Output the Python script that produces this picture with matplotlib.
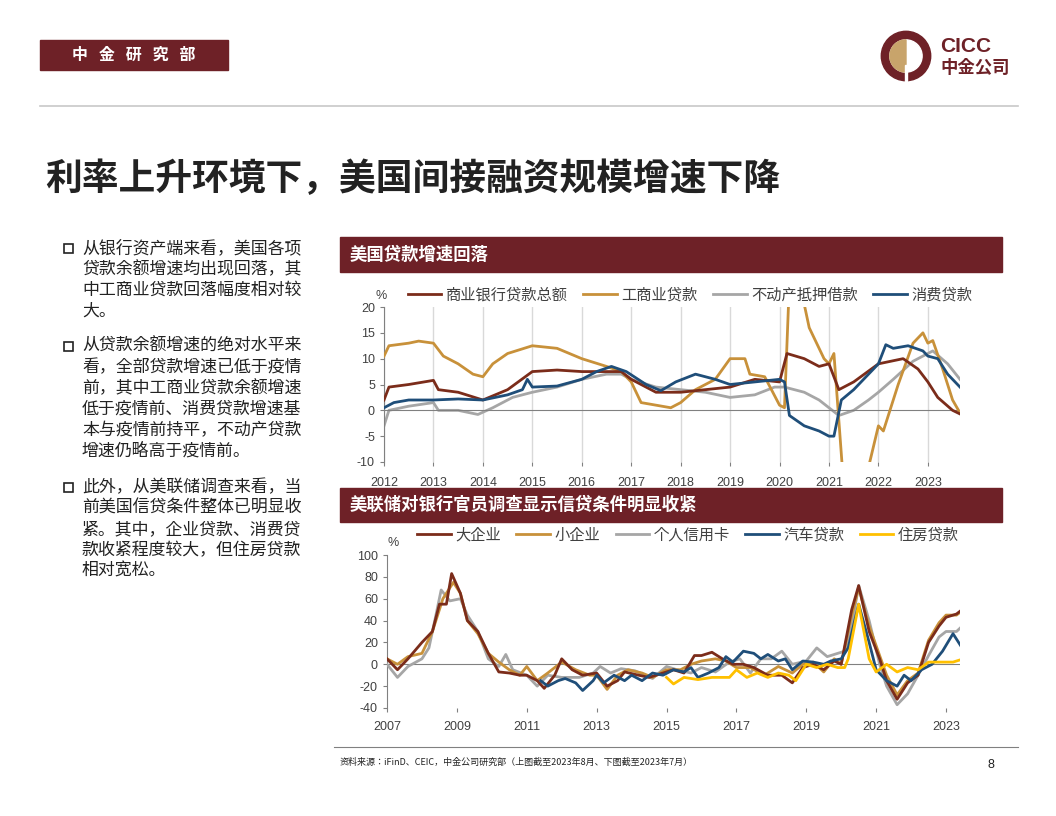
import matplotlib
matplotlib.use("Agg")
import matplotlib.pyplot as plt
from matplotlib.patches import Rectangle, Circle, Wedge
from matplotlib import font_manager

names = {f.name for f in font_manager.fontManager.ttflist}
cjk = [n for n in ["Noto Sans CJK SC", "Noto Sans CJK JP", "Noto Sans CJK TC", "Noto Sans CJK KR"] if n in names]
plt.rcParams["font.family"] = cjk + ["DejaVu Sans"]
plt.rcParams["axes.unicode_minus"] = False

W, H = 1056, 816
RED = "#6E2127"
C_DR, C_OR, C_GY, C_BL, C_YL = "#7B2C1A", "#C8913A", "#A6A6A6", "#1F4E79", "#FFC000"

# ---- data: top chart (year, %)
top_x_total = [2012.0,2012.1,2012.5,2013.0,2013.1,2013.5,2014.0,2014.5,2015.0,2015.5,2016.0,2016.5,2016.8,2017.0,2017.5,2018.0,2018.5,2019.0,2019.5,2020.0,2020.15,2020.5,2020.8,2021.0,2021.2,2021.5,2022.0,2022.5,2022.8,2023.0,2023.2,2023.5,2023.65]
top_y_total = [2,4.5,5,5.8,4,3.5,2,4,7.5,7.8,7.5,7.5,7.5,6,3.5,3.5,4,4.5,6,5.5,11,10,8.5,9,4,5.5,9,10,8,5.5,2.5,0,-0.7]
top_x_ci = [2012.0,2012.1,2012.5,2012.7,2013.0,2013.2,2013.5,2013.8,2014.0,2014.2,2014.5,2015.0,2015.5,2016.0,2016.5,2016.8,2017.0,2017.2,2017.5,2017.8,2018.0,2018.3,2018.7,2019.0,2019.3,2019.4,2019.7,2020.0,2020.1,2020.2,2020.4,2020.6,2020.9,2021.0,2021.1,2021.3,2021.7,2022.0,2022.1,2022.4,2022.7,2022.9,2023.0,2023.1,2023.3,2023.5,2023.65]
top_y_ci = [10.5,12.5,13,13.4,13,10.5,9,7,6.5,9,11,12.5,12,10,8.5,7.5,5.5,1.5,1,0.5,1.5,4,6,10,10,7,6.5,1,0.5,25,25,16,10,9,11,-15,-15,-3,-4,5,13,15,13,13.5,8,2,-0.5]
top_x_re = [2012.0,2012.1,2012.5,2013.0,2013.1,2013.5,2013.9,2014.2,2014.6,2015.0,2015.5,2016.0,2016.5,2016.8,2017.0,2017.5,2018.0,2018.5,2019.0,2019.5,2019.9,2020.1,2020.5,2020.8,2021.0,2021.2,2021.5,2021.8,2022.0,2022.3,2022.7,2023.0,2023.1,2023.4,2023.65]
top_y_re = [-3,0,0.8,1.5,0,0,-0.8,0.5,2.5,3.5,4.5,6,7,7,6,4.5,4,3.5,2.5,3,4.5,4.5,3.5,2,0.5,-1,0,2,3.5,6,9.5,11,11.5,9,6]
top_x_con = [2012.0,2012.2,2012.5,2013.0,2013.5,2014.0,2014.5,2014.8,2014.9,2015.0,2015.5,2016.0,2016.3,2016.6,2016.9,2017.3,2017.6,2017.9,2018.3,2018.7,2019.0,2019.5,2020.0,2020.1,2020.2,2020.5,2020.8,2021.0,2021.1,2021.25,2021.5,2022.0,2022.15,2022.3,2022.6,2022.9,2023.0,2023.2,2023.4,2023.5,2023.65]
top_y_con = [0.5,1.5,2,2,2.2,2,3,4,6,4.5,4.7,6,7.5,8.5,7.5,5,3.8,5.5,7,6,5,5.5,6,5.5,-1,-3,-4,-5,-5,2,4,9,12.7,12,12.5,11.5,10.5,10,7,6,4.5]
top_names = ["商业银行贷款总额","工商业贷款","不动产抵押借款","消费贷款"]
top_ticks = list(range(2012, 2024))

# ---- data: bottom chart (year, %)
b_x_large = [2007.0,2007.3,2007.6,2008.0,2008.3,2008.5,2008.7,2008.85,2009.1,2009.3,2009.6,2009.9,2010.2,2010.5,2010.8,2011.0,2011.3,2011.5,2011.8,2012.0,2012.3,2012.6,2013.0,2013.3,2013.6,2013.8,2014.2,2014.5,2014.9,2015.2,2015.5,2015.8,2016.0,2016.3,2016.6,2016.9,2017.2,2017.5,2017.9,2018.3,2018.6,2018.9,2019.2,2019.5,2019.8,2020.0,2020.3,2020.5,2020.8,2021.1,2021.3,2021.6,2021.9,2022.2,2022.5,2022.8,2023.0,2023.3,2023.5]
b_y_large = [5,-5,5,20,30,55,55,83,65,40,30,10,-7,-8,-10,-10,-15,-22,-10,5,-5,-10,-8,-20,-15,-7,-10,-12,-8,-5,-8,8,8,11,5,0,0,-3,-10,-10,-17,-3,0,-5,3,0,50,72,30,5,-15,-32,-17,-10,20,35,43,46,51]
b_x_small = [2007.0,2007.3,2007.6,2008.0,2008.3,2008.6,2008.9,2009.1,2009.3,2009.6,2009.9,2010.2,2010.5,2010.8,2011.0,2011.3,2011.6,2012.0,2012.4,2012.8,2013.0,2013.3,2013.6,2013.9,2014.3,2014.6,2015.0,2015.4,2015.7,2016.0,2016.4,2016.7,2017.0,2017.4,2017.8,2018.2,2018.6,2018.9,2019.2,2019.5,2019.8,2020.0,2020.3,2020.5,2020.8,2021.1,2021.3,2021.6,2021.9,2022.2,2022.5,2022.8,2023.0,2023.3,2023.5]
b_y_small = [5,0,7,10,30,60,75,65,40,28,10,2,-5,-10,-2,-15,-8,2,-5,-10,-10,-23,-10,-5,-8,-12,-5,-5,0,3,5,3,-3,-3,-10,-2,-8,0,2,-7,5,0,45,70,35,8,-10,-28,-15,-8,22,38,45,45,50]
b_x_card = [2007.0,2007.3,2007.6,2008.0,2008.2,2008.4,2008.55,2008.8,2009.1,2009.3,2009.6,2009.9,2010.2,2010.4,2010.6,2011.0,2011.3,2011.6,2012.0,2012.5,2012.9,2013.1,2013.4,2013.7,2014.1,2014.6,2015.0,2015.3,2015.7,2016.0,2016.4,2016.8,2017.1,2017.4,2017.7,2018.0,2018.3,2018.6,2019.0,2019.3,2019.6,2019.9,2020.1,2020.3,2020.5,2020.8,2021.1,2021.3,2021.6,2021.9,2022.2,2022.5,2022.8,2023.0,2023.3,2023.5]
b_y_card = [0,-12,-2,5,15,45,68,58,60,45,30,5,-2,9,-5,-10,-20,-10,-12,-12,-8,-2,-8,-4,-6,-13,-2,-5,-8,-3,-7,2,5,-8,5,5,12,0,3,15,7,10,12,35,72,40,0,-20,-37,-27,-10,8,25,30,30,36]
b_x_auto = [2011.4,2011.6,2011.9,2012.1,2012.4,2012.6,2012.9,2013.0,2013.2,2013.5,2013.8,2014.0,2014.3,2014.6,2014.9,2015.2,2015.5,2015.7,2015.9,2016.2,2016.5,2016.7,2016.9,2017.2,2017.5,2017.7,2017.9,2018.2,2018.4,2018.6,2018.9,2019.2,2019.5,2019.7,2020.0,2020.2,2020.5,2020.8,2021.0,2021.3,2021.6,2021.8,2022.0,2022.3,2022.6,2022.9,2023.2,2023.5]
b_y_auto = [-15,-20,-15,-13,-17,-24,-15,-10,-17,-10,-15,-10,-15,-8,-10,-5,-7,-3,-12,-8,-3,7,2,12,10,5,9,3,5,-5,3,2,0,3,5,15,55,20,-5,-15,-20,-10,-15,-5,0,12,28,13]
b_x_house = [2015.0,2015.2,2015.5,2015.9,2016.3,2016.8,2017.0,2017.3,2017.6,2017.9,2018.2,2018.5,2018.7,2019.0,2019.3,2019.6,2019.9,2020.1,2020.2,2020.5,2020.8,2021.0,2021.3,2021.6,2021.9,2022.2,2022.5,2022.9,2023.2,2023.5]
b_y_house = [-12,-18,-12,-14,-12,-12,-5,-12,-8,-12,-8,-10,-15,0,-3,0,-3,-3,5,55,5,-7,0,-7,-3,-5,2,2,2,5]
bot_names = ["大企业","小企业","个人信用卡","汽车贷款","住房贷款"]
bot_ticks = list(range(2007, 2024, 2))

fig = plt.figure(figsize=(W/100, H/100), dpi=100)

def fx(px): return px / W
def fy(py): return 1 - py / H

def rect(x0, y0, x1, y1, color):
    fig.patches.append(Rectangle((fx(x0), fy(y1)), fx(x1 - x0), (y1 - y0) / H,
                                 transform=fig.transFigure, color=color, zorder=0))

# header
rect(40, 40, 228, 70, RED)
fig.text(fx(134), fy(55), "中   金   研   究   部", color="white", fontsize=11.5,
         fontweight="bold", ha="center", va="center")
# logo
lax = fig.add_axes([fx(880), fy(82), fx(52), 52/H])
lax.set_xlim(-1, 1); lax.set_ylim(-1, 1); lax.set_aspect("equal"); lax.axis("off")
lax.add_patch(Circle((0, 0), 0.95, color=RED))
lax.add_patch(Circle((0, 0), 0.62, color="white"))
lax.add_patch(Wedge((0, 0), 0.62, 90, 270, color="#C8A46B"))
lax.add_patch(Rectangle((-0.05, -0.95), 0.1, 0.6, color="white"))
fig.text(fx(940), fy(47), "CICC", color=RED, fontsize=15, fontweight="bold",
         family="Liberation Sans", va="center")
fig.text(fx(940), fy(68), "中金公司", color=RED, fontsize=12.5, fontweight="bold", va="center")
fig.add_artist(plt.Line2D([fx(40), fx(1018)], [fy(106)] * 2, color="#C8C8C8", lw=1.2))

# title
fig.text(fx(45), fy(180), "利率上升环境下，美国间接融资规模增速下降", fontsize=26.5,
         fontweight="bold", color="#222222", va="center")

# bullets
paras = [
    (248, ["从银行资产端来看，美国各项", "贷款余额增速均出现回落，其", "中工商业贷款回落幅度相对较", "大。"]),
    (346, ["从贷款余额增速的绝对水平来", "看，全部贷款增速已低于疫情", "前，其中工商业贷款余额增速", "低于疫情前、消费贷款增速基", "本与疫情前持平，不动产贷款", "增速仍略高于疫情前。"]),
    (487, ["此外，从美联储调查来看，当", "前美国信贷条件整体已明显收", "紧。其中，企业贷款、消费贷", "款收紧程度较大，但住房贷款", "相对宽松。"]),
]
for y0, lines in paras:
    fig.patches.append(Rectangle((fx(64), fy(y0 + 5)), fx(9), 9/H, transform=fig.transFigure,
                                 fill=False, edgecolor="#222222", lw=1.2))
    for i, ln in enumerate(lines):
        fig.text(fx(82), fy(y0 + i * 21), ln, fontsize=12.2, color="#222222", va="center")

# chart headers
rect(340, 237, 1002, 272, RED)
fig.text(fx(350), fy(255), "美国贷款增速回落", color="white", fontsize=12.5, fontweight="bold", va="center")
rect(340, 488, 1002, 522, RED)
fig.text(fx(350), fy(505), "美联储对银行官员调查显示信贷条件明显收紧", color="white", fontsize=12.5, fontweight="bold", va="center")

def style(ax):
    for s in ["top", "right"]:
        ax.spines[s].set_visible(False)
    ax.spines["left"].set_color("#808080")
    ax.spines["bottom"].set_visible(False)
    ax.tick_params(axis="both", colors="#404040", length=3, color="#808080")
    for lab in ax.get_xticklabels() + ax.get_yticklabels():
        lab.set_fontfamily("Liberation Sans"); lab.set_fontsize(9)

# top chart
ax1 = fig.add_axes([fx(384), fy(462), fx(960 - 384), (462 - 307) / H])
l1 = ax1.plot(top_x_total, top_y_total, color=C_DR, lw=2, zorder=4)
l2 = ax1.plot(top_x_ci, top_y_ci, color=C_OR, lw=2, zorder=3)
l3 = ax1.plot(top_x_re, top_y_re, color=C_GY, lw=2, zorder=2)
l4 = ax1.plot(top_x_con, top_y_con, color=C_BL, lw=2, zorder=5)
ax1.set_xlim(2012, 2023.65); ax1.set_ylim(-10, 20)
ax1.set_yticks(range(-10, 21, 5)); ax1.set_xticks(top_ticks)
ax1.set_xticklabels([str(t) for t in top_ticks])
ax1.axhline(0, color="#808080", lw=0.8)
for t in top_ticks:
    ax1.axvline(t, color="#D9D9D9", lw=1, zorder=0)
ax1.tick_params(axis="x", length=0, pad=8)
style(ax1)
fig.text(fx(376), fy(296), "%", fontsize=9, family="Liberation Sans", color="#404040", va="center")
fig.legend([l1[0], l2[0], l3[0], l4[0]], top_names, loc="center", ncol=4,
           bbox_to_anchor=(fx(690), fy(295)), frameon=False, fontsize=11,
           handlelength=2.2, columnspacing=1.0, handletextpad=0.3, labelcolor="#404040")

# bottom chart
ax2 = fig.add_axes([fx(387), fy(708), fx(960 - 387), (708 - 555) / H])
m1 = ax2.plot(b_x_large, b_y_large, color=C_DR, lw=2, zorder=5)
m2 = ax2.plot(b_x_small, b_y_small, color=C_OR, lw=2, zorder=4)
m3 = ax2.plot(b_x_card, b_y_card, color=C_GY, lw=2, zorder=3)
m4 = ax2.plot(b_x_auto, b_y_auto, color=C_BL, lw=2, zorder=6)
m5 = ax2.plot(b_x_house, b_y_house, color=C_YL, lw=2, zorder=7)
ax2.set_xlim(2007, 2023.4); ax2.set_ylim(-40, 100)
ax2.set_yticks(range(-40, 101, 20)); ax2.set_xticks(bot_ticks)
ax2.set_xticklabels([str(t) for t in bot_ticks])
ax2.axhline(0, color="#808080", lw=0.8, zorder=1)
ax2.tick_params(axis="x", length=0, pad=6)
style(ax2)
fig.text(fx(388), fy(543), "%", fontsize=9, family="Liberation Sans", color="#404040", va="center")
fig.legend([m1[0], m2[0], m3[0], m4[0], m5[0]], bot_names, loc="center", ncol=5,
           bbox_to_anchor=(fx(688), fy(535)), frameon=False, fontsize=11,
           handlelength=2.2, columnspacing=1.0, handletextpad=0.3, labelcolor="#404040")

# footer
fig.add_artist(plt.Line2D([fx(334), fx(1018)], [fy(747)] * 2, color="#808080", lw=0.8))
fig.text(fx(340), fy(762), "资料来源：iFinD、CEIC，中金公司研究部（上图截至2023年8月、下图截至2023年7月）",
         fontsize=6.5, color="#222222", va="center")
fig.text(fx(988), fy(765), "8", fontsize=9, color="#222222", va="center", family="Liberation Sans")

fig.savefig("out.png", dpi=100)
